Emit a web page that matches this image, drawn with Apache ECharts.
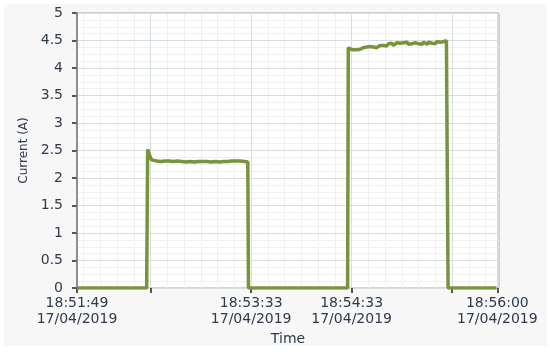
<!DOCTYPE html>
<html>
<head>
<meta charset="utf-8">
<script src="https://cdn.jsdelivr.net/npm/echarts@6/dist/echarts.min.js"></script>
<style>
  body { margin: 0; background: #fff; }
  #bg { position: absolute; left: 4px; top: 4px; width: 543px; height: 342px; background: #f7f7f7; }
  #chart { position: absolute; left: 0; top: 0; width: 550px; height: 352px; }
</style>
</head>
<body>
<div id="bg"></div>
<div id="chart"></div>
<script>
// seconds after 18:51:49 on 17/04/2019
const startSec = 18 * 3600 + 51 * 60 + 49;
const timeSec = [
  0, 41.6, 42.2, 43.4, 44.5, 45.5, 47.5, 50, 52.5, 55, 57.5, 60, 62.5, 65, 67.5, 70, 72.5,
  75, 77.5, 80, 82.5, 85, 87.5, 90, 92.5, 95, 97.5, 100, 102, 102.4,
  161.6, 162, 163.5, 165, 166, 167, 168, 169, 170, 171, 172, 173, 174, 175, 176, 177, 178, 179, 180,
  181, 182, 183, 184, 185, 186, 187, 188, 189, 190, 191, 192, 193, 194, 195, 196, 197, 198, 199, 200,
  201, 202, 203, 204, 205, 206, 207, 208, 209, 210, 211, 212, 213, 214, 215, 216, 217, 218, 219, 220,
  220.6, 221.3, 221.6,
  250.5
];
const currentA = [
  0, 0, 2.52, 2.41, 2.33, 2.31, 2.31, 2.30, 2.31, 2.31, 2.30, 2.31, 2.30, 2.29, 2.30, 2.29, 2.30,
  2.30, 2.30, 2.29, 2.30, 2.29, 2.30, 2.30, 2.31, 2.31, 2.31, 2.30, 2.29, 0,
  0, 4.37, 4.34, 4.33, 4.35, 4.33, 4.36, 4.34, 4.36, 4.37, 4.35, 4.38, 4.36, 4.39, 4.37, 4.38, 4.40, 4.37, 4.39,
  4.41, 4.38, 4.41, 4.43, 4.40, 4.44, 4.42, 4.45, 4.41, 4.44, 4.46, 4.43, 4.45, 4.42, 4.46, 4.44, 4.47, 4.43, 4.45, 4.44,
  4.42, 4.46, 4.48, 4.44, 4.46, 4.43, 4.47, 4.45, 4.43, 4.47, 4.49, 4.45, 4.47, 4.44, 4.48, 4.46, 4.47, 4.44, 4.48, 4.47,
  4.50, 4.49, 0,
  0
];
const tickSec = [0, 44, 104, 164, 224, 251];
const labelSec = [0, 104, 164, 251];
const minorSec = [4, 14, 24, 34, 54, 64, 74, 84, 94, 114, 124, 134, 144, 154, 174, 184, 194, 204, 214, 234, 244];
const dateText = '17/04/2019';

function pad(n) { return n < 10 ? '0' + n : '' + n; }
function timeLabel(v) {
  const t = Math.round(startSec + v);
  return pad(Math.floor(t / 3600)) + ':' + pad(Math.floor(t / 60) % 60) + ':' + pad(t % 60) + '\n' + dateText;
}

const chart = echarts.init(document.getElementById('chart'));
chart.setOption({
  animation: false,
  grid: {
    left: 77, top: 13, right: 51, bottom: 64,
    show: true, backgroundColor: '#fff', borderColor: '#a8a8a8', borderWidth: 1
  },
  xAxis: [
    {
      type: 'value', min: 0, max: 252, position: 'bottom', offset: 3, z: 3,
      name: 'Time', nameLocation: 'middle', nameGap: 39,
      nameTextStyle: { fontFamily: 'DejaVu Sans', fontSize: 14, color: '#2f3a4c' },
      axisLine: { show: false },
      axisTick: { show: true, length: 5, customValues: tickSec, lineStyle: { color: '#222', width: 1.5 } },
      axisLabel: {
        customValues: labelSec, formatter: timeLabel, margin: 4,
        fontFamily: 'DejaVu Sans', fontSize: 14, lineHeight: 16, color: '#2f3a4c'
      },
      splitLine: { show: true, lineStyle: { color: '#d6dede' } }
    },
    {
      type: 'value', min: 0, max: 252, position: 'top', z: 1,
      axisLine: { show: false },
      axisTick: { show: false, customValues: minorSec },
      axisLabel: { show: false },
      splitLine: { show: true, lineStyle: { color: '#eff1f1' } }
    }
  ],
  yAxis: [
    {
      type: 'value', min: 0, max: 5, interval: 0.5, position: 'left', offset: 5, z: 3,
      name: 'Current (A)', nameLocation: 'middle', nameGap: 40,
      nameTextStyle: { fontFamily: 'DejaVu Sans', fontSize: 12, color: '#2f3a4c' },
      axisLine: { show: false },
      axisTick: { show: true, length: 5, lineStyle: { color: '#222', width: 1.5 } },
      axisLabel: { margin: 9, fontFamily: 'DejaVu Sans', fontSize: 14, color: '#2f3a4c' },
      splitLine: { show: true, lineStyle: { color: '#d6dede' } },
      minorTick: { show: false, splitNumber: 4 },
      minorSplitLine: { show: true, lineStyle: { color: '#eff1f1' } }
    },
    {
      type: 'value', min: 0, max: 5, position: 'left', offset: 0, z: 4,
      axisLine: { show: true, lineStyle: { color: '#777', width: 1.5 } },
      axisTick: { show: false },
      axisLabel: { show: false },
      splitLine: { show: false }
    }
  ],
  series: [
    {
      type: 'line', xAxisIndex: 0, yAxisIndex: 0, z: 5,
      data: timeSec.map((t, i) => [t, currentA[i]]),
      showSymbol: false,
      lineStyle: { color: '#77933c', width: 3.5 }
    }
  ]
});
</script>
</body>
</html>
